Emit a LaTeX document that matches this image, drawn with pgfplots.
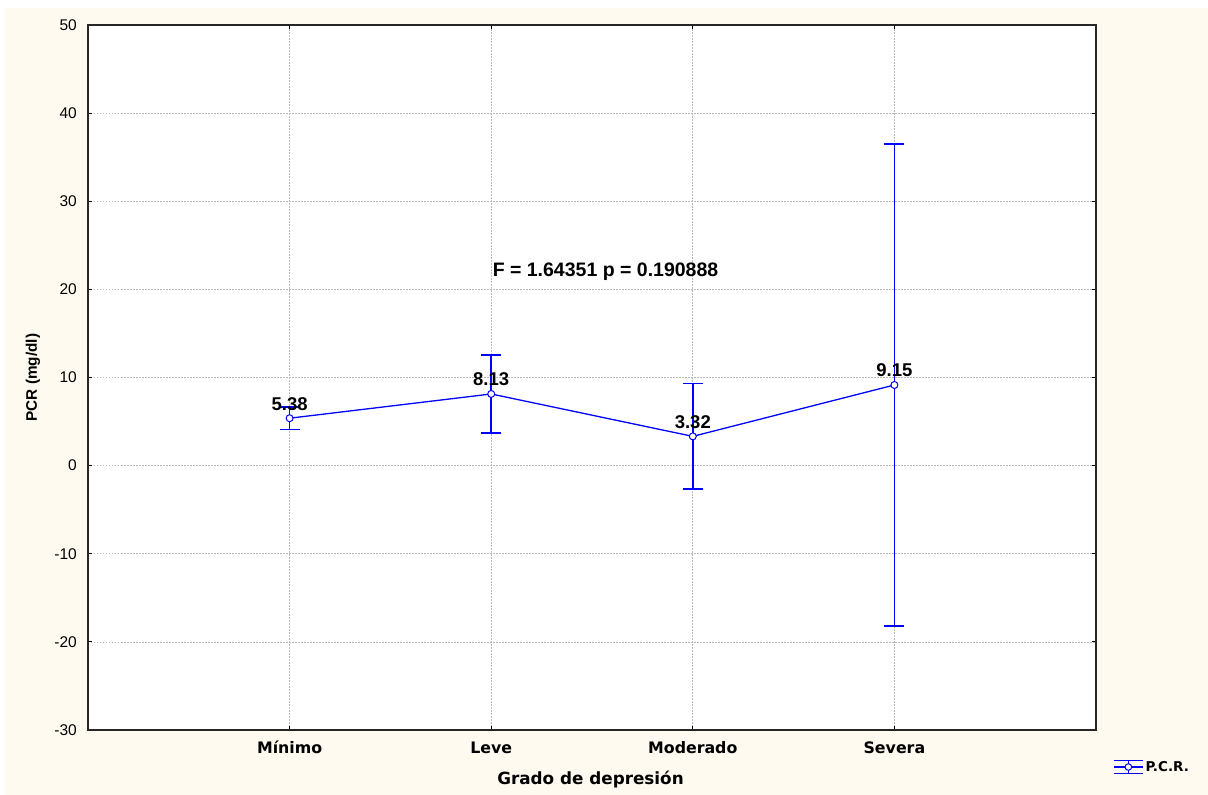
\documentclass[border=0pt]{standalone}
\usepackage{fontspec}
\setmainfont{Liberation Sans}
\newfontfamily\dvs{DejaVu Sans}
\usepackage{pgfplots}
\pgfplotsset{compat=1.18}
\definecolor{cream}{RGB}{255,250,240}
\definecolor{gridgray}{RGB}{185,185,185}
\pgfplotstableread{
x y ey label
0 5.38 1.30 5.38
1 8.13 4.40 8.13
2 3.32 6.00 3.32
3 9.15 27.35 9.15
}\pcrdata
\begin{document}
\begin{tikzpicture}[x=1pt,y=1pt]
\useasboundingbox (0,0) rectangle (1208,795);
\fill[white] (0,0) rectangle (1208,795);
\fill[cream] (5,0) rectangle (1208,787);
\begin{axis}[
 at={(88pt,65pt)}, anchor=south west,
 scale only axis, width=1008pt, height=705pt,
 xmin=-1, xmax=4, ymin=-30, ymax=50,
 xtick={0,1,2,3}, xticklabels={Mínimo,Leve,Moderado,Severa},
 ytick={-30,-20,...,50},
 grid=major, grid style={gridgray, dash pattern=on 1.5pt off 1.5pt, line width=0.7pt},
 axis background/.style={fill=white},
 axis line style={line width=1.3pt, black!85},
 major tick length=4pt, tick style={black, line width=1pt},
 /pgf/number format/assume math mode=true,
 yticklabel style={font=\fontsize{15.5}{17}\selectfont, inner sep=0pt, anchor=east, xshift=-11pt},
 xticklabel style={font=\dvs\bfseries\fontsize{15.8}{18}\selectfont, inner sep=0pt, anchor=base, yshift=-23.5pt},
 xlabel={Grado de depresión},
 xlabel style={font=\dvs\bfseries\fontsize{16.8}{19}\selectfont, inner sep=0pt, at={(axis description cs:0.4985,-0.0766)}, anchor=base},
 ylabel={PCR (mg/dl)},
 ylabel style={font=\bfseries\fontsize{15.3}{18}\selectfont, inner sep=0pt, at={(axis description cs:-0.0546,0.5)}, anchor=center},
 legend style={at={(axis description cs:1.0169,-0.0525)}, anchor=west, draw=none, fill=none, inner sep=0pt,
   font=\dvs\bfseries\fontsize{13.5}{15}\selectfont},
]
\addplot[blue, line width=1.3pt, mark=*, mark size=3.5pt, mark options={fill=white, draw=blue, line width=1pt},
 nodes near coords, point meta=explicit symbolic,
 nodes near coords style={font=\bfseries\fontsize{18.5}{20}\selectfont, anchor=base, yshift=8pt, black, inner sep=0pt},
 error bars/.cd, y dir=both, y explicit,
 error bar style={line width=1.6pt, draw=blue},
 error mark options={rotate=90, mark size=10pt, line width=1.6pt, draw=blue},
 /pgfplots/legend image code/.code={
   \draw[blue, line width=1.3pt] (0pt,6.5pt) -- (29pt,6.5pt);
   \draw[blue, line width=1.3pt] (0pt,-6.5pt) -- (29pt,-6.5pt);
   \draw[blue, line width=1.2pt] (0pt,0pt) -- (29pt,0pt);
   \draw[blue, line width=1.3pt] (14.5pt,-6.5pt) -- (14.5pt,6.5pt);
   \draw[blue, fill=white, line width=1pt] (14.5pt,0pt) circle (3.3pt);
 },
] table[x=x, y=y, y error=ey, meta=label] {\pcrdata};
\addlegendentry{P.C.R.}
\node[font=\bfseries\fontsize{19.5}{22}\selectfont, anchor=base, inner sep=0pt] at (axis cs:1.567,21.5) {F = 1.64351 p = 0.190888};
\end{axis}
\end{tikzpicture}
\end{document}
